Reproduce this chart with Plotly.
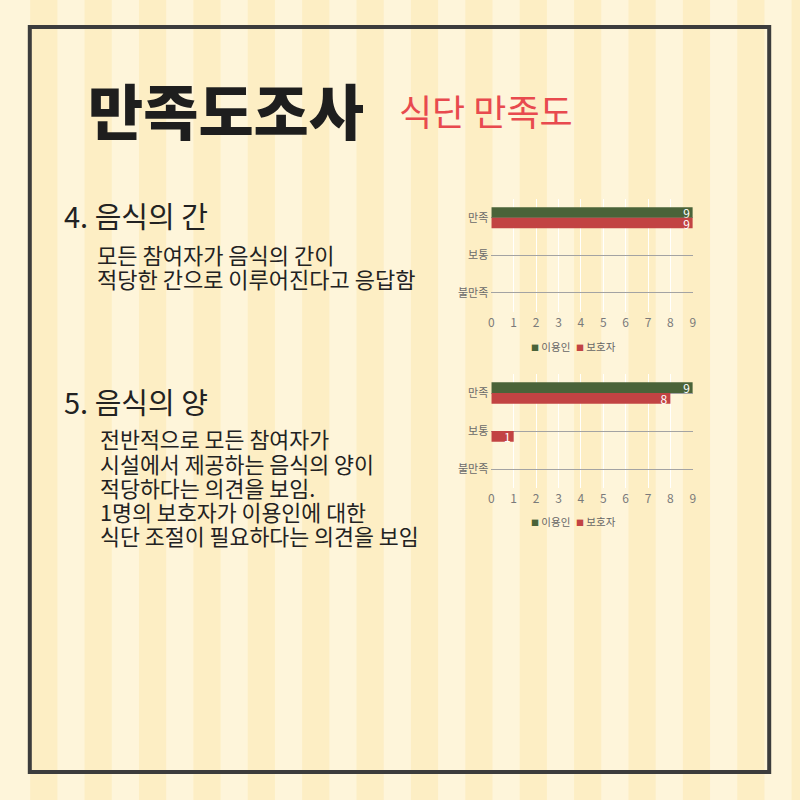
import plotly.graph_objects as go

# ---- data ----
categories = ["만족", "보통", "불만족"]
series_names = ["이용인", "보호자"]
chart1_user = [9, 0, 0]
chart1_guardian = [9, 0, 0]
chart2_user = [9, 0, 0]
chart2_guardian = [8, 1, 0]
x_ticks = list(range(0, 10))

title_main = "만족도조사"
title_sub = "식단 만족도"
sec4_title = "4. 음식의 간"
sec4_lines = ["모든 참여자가 음식의 간이", "적당한 간으로 이루어진다고 응답함"]
sec5_title = "5. 음식의 양"
sec5_lines = ["전반적으로 모든 참여자가", "시설에서 제공하는 음식의 양이", "적당하다는 의견을 보임.",
              "1명의 보호자가 이용인에 대한", "식단 조절이 필요하다는 의견을 보임"]

# ---- style ----
W = H = 800
FONT = "Noto Sans CJK KR"
GREEN = "#4A6339"
RED = "#C24343"
LIGHT = "#FEF5DA"
DARK = "#FDEEC4"
SERIES_COLORS = [GREEN, RED]


def px(x):
    return x / W


def py(y):
    return 1 - y / H


fig = go.Figure()


def label_text(vals):
    return [str(v) if v else "" for v in vals]


def add_chart(user, guardian, xa, ya):
    for name, vals, col in ((series_names[0], user, GREEN), (series_names[1], guardian, RED)):
        fig.add_trace(go.Bar(
            y=categories, x=vals, orientation="h", name=name,
            marker=dict(color=col, line=dict(width=0)),
            text=label_text(vals), textposition="inside", insidetextanchor="end",
            textfont=dict(color="white", size=12, family=FONT), constraintext="none",
            textangle=0, xaxis=xa, yaxis=ya, showlegend=False, hoverinfo="skip"))


add_chart(chart1_user, chart1_guardian, "x", "y")
add_chart(chart2_user, chart2_guardian, "x2", "y2")

xaxis_common = dict(range=[0, 9], tickvals=x_ticks, showgrid=True,
                    gridcolor="rgba(255,255,255,0.95)", gridwidth=1, zeroline=False,
                    showline=False, ticks="", ticklabelstandoff=2,
                    tickfont=dict(size=12, color="#7a7a7a", family=FONT), fixedrange=True)
yaxis_common = dict(autorange="reversed", showgrid=True, gridcolor="#a3a3a3", gridwidth=1,
                    zeroline=False, showline=False, ticks="", ticklabelstandoff=2,
                    tickfont=dict(size=11, color="#6a6a6a", family=FONT), fixedrange=True)

shapes = []
sw = 27.4
k = 1
while k * sw < W:
    shapes.append(dict(type="rect", xref="paper", yref="paper", x0=px(k * sw), x1=px((k + 1) * sw),
                       y0=0, y1=1, fillcolor=DARK, line=dict(width=0), layer="below"))
    k += 2
shapes.append(dict(type="rect", xref="paper", yref="paper", x0=px(27), x1=px(772),
                   y0=py(772), y1=py(27), line=dict(color="#3c3c3c", width=4),
                   fillcolor="rgba(0,0,0,0)", layer="above"))

annotations = []


def ann(text, x, y, size, color="#222222", weight="normal", xanchor="left"):
    annotations.append(dict(text=text, x=px(x), y=py(y),
                            xref="paper", yref="paper", xanchor=xanchor, yanchor="middle",
                            showarrow=False,
                            font=dict(size=size, color=color, family=FONT, weight=weight)))


ann(title_main, 84, 109, 60, "#1e1e1e", weight=900)
ann(title_sub, 397, 110, 36, "#E84A4E")
ann(sec4_title, 59, 215, 29)
for i, line in enumerate(sec4_lines):
    ann(line, 93, 254 + i * 24, 22)
ann(sec5_title, 59, 401, 29)
for i, line in enumerate(sec5_lines):
    ann(line, 96, 439 + i * 24, 21.7)

# legends (compact: small square + label)
legend_x = [530, 575]
for ly in (346, 521):
    for name, col, lx in zip(series_names, SERIES_COLORS, legend_x):
        ann(f'<span style="color:{col};font-size:8px">■</span> {name}', lx, ly, 10.5, "#666666")

fig.update_layout(
    width=W, height=H, margin=dict(l=0, r=0, t=0, b=0),
    paper_bgcolor=LIGHT, plot_bgcolor="rgba(0,0,0,0)",
    font=dict(family=FONT),
    barmode="group", bargap=0.44, bargroupgap=0, showlegend=False,
    xaxis=dict(domain=[px(492), px(695)], anchor="y", **xaxis_common),
    yaxis=dict(domain=[py(311.5), py(199)], anchor="x", **yaxis_common),
    xaxis2=dict(domain=[px(492), px(695)], anchor="y2", **xaxis_common),
    yaxis2=dict(domain=[py(488), py(374)], anchor="x2", **yaxis_common),
    shapes=shapes, annotations=annotations,
)

fig.write_html("out.html", config={"displayModeBar": False},
               post_script="document.body.style.margin='0';")
